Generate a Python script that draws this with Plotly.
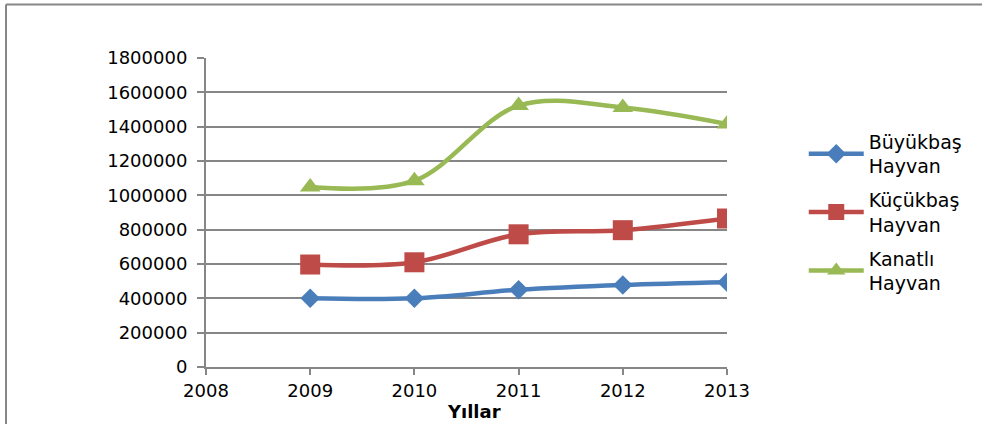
import plotly.graph_objects as go

years = [2009, 2010, 2011, 2012, 2013]
buyukbas = [400000, 400000, 450000, 478000, 494000]
kucukbas = [597000, 610000, 773000, 797000, 865000]
kanatli = [1048000, 1085000, 1523000, 1512000, 1416000]

series_names = ["Büyükbaş<br>Hayvan", "Küçükbaş<br>Hayvan", "Kanatlı<br>Hayvan"]
series_values = [buyukbas, kucukbas, kanatli]
colors = ["#4A7EBB", "#BE4B48", "#98B954"]
symbols = ["diamond", "square", "triangle-up"]
sizes = [15, 20, 18]

x_ticks = [2008, 2009, 2010, 2011, 2012, 2013]
y_ticks = list(range(0, 1800001, 200000))

FONT = "DejaVu Sans"
GRID = "#868686"

fig = go.Figure()
for i, (name, vals, c, s, sz) in enumerate(zip(series_names, series_values, colors, symbols, sizes)):
    fig.add_trace(go.Scatter(
        x=years, y=vals, name=name, mode="lines+markers", legendgroup=f"g{i}",
        line=dict(color=c, width=4.5, shape="spline", smoothing=1),
        marker=dict(symbol=s, size=sz, color=c, line=dict(width=0)),
    ))

bx0 = (6 - 206) / 521
bx1 = (1400 - 206) / 521
by0 = (367 - 900) / 309
by1 = (367 - 4.5) / 309

fig.update_layout(
    width=982, height=424,
    margin=dict(l=206, r=255, t=58, b=57, autoexpand=False),
    paper_bgcolor="white", plot_bgcolor="white",
    font=dict(family=FONT, size=18, color="black"),
    showlegend=True,
    legend=dict(x=1.155 - 4 / 521, y=0.5, xanchor="left", yanchor="middle",
                font=dict(family=FONT, size=19, color="black"),
                traceorder="grouped",
                itemwidth=55, tracegroupgap=6, bgcolor="rgba(0,0,0,0)"),
    xaxis=dict(range=[2008, 2013], tickmode="array", tickvals=x_ticks,
               ticktext=[str(v) for v in x_ticks],
               showgrid=False, showline=True, linecolor=GRID, linewidth=2,
               ticks="outside", ticklen=6, tickcolor=GRID, tickwidth=2,
               zeroline=False, tickfont=dict(family=FONT, size=18)),
    yaxis=dict(range=[0, 1800000], tickmode="array", tickvals=y_ticks,
               ticktext=[str(v) for v in y_ticks],
               showgrid=True, gridcolor=GRID, gridwidth=1.5,
               showline=True, linecolor=GRID, linewidth=2,
               ticks="outside", ticklen=7, tickcolor=GRID, tickwidth=2,
               ticklabelstandoff=6,
               zeroline=False, tickfont=dict(family=FONT, size=18)),
    shapes=[
        dict(type="line", xref="paper", yref="paper", x0=bx0, x1=bx0, y0=by0, y1=by1,
             line=dict(color=GRID, width=2), layer="below"),
        dict(type="line", xref="paper", yref="paper", x0=bx0, x1=bx1, y0=by1, y1=by1,
             line=dict(color=GRID, width=2), layer="below"),
    ],
    annotations=[dict(text="<b>Yıllar</b>", xref="paper", yref="paper",
                      x=(474 - 206) / 521, y=(367 - 411) / 309,
                      xanchor="center", yanchor="middle", showarrow=False,
                      font=dict(family=FONT, size=18, color="black"))],
)

fig.write_html("out.html", config={"displayModeBar": False},
               post_script="document.body.style.margin='0';document.body.style.overflow='hidden';")
